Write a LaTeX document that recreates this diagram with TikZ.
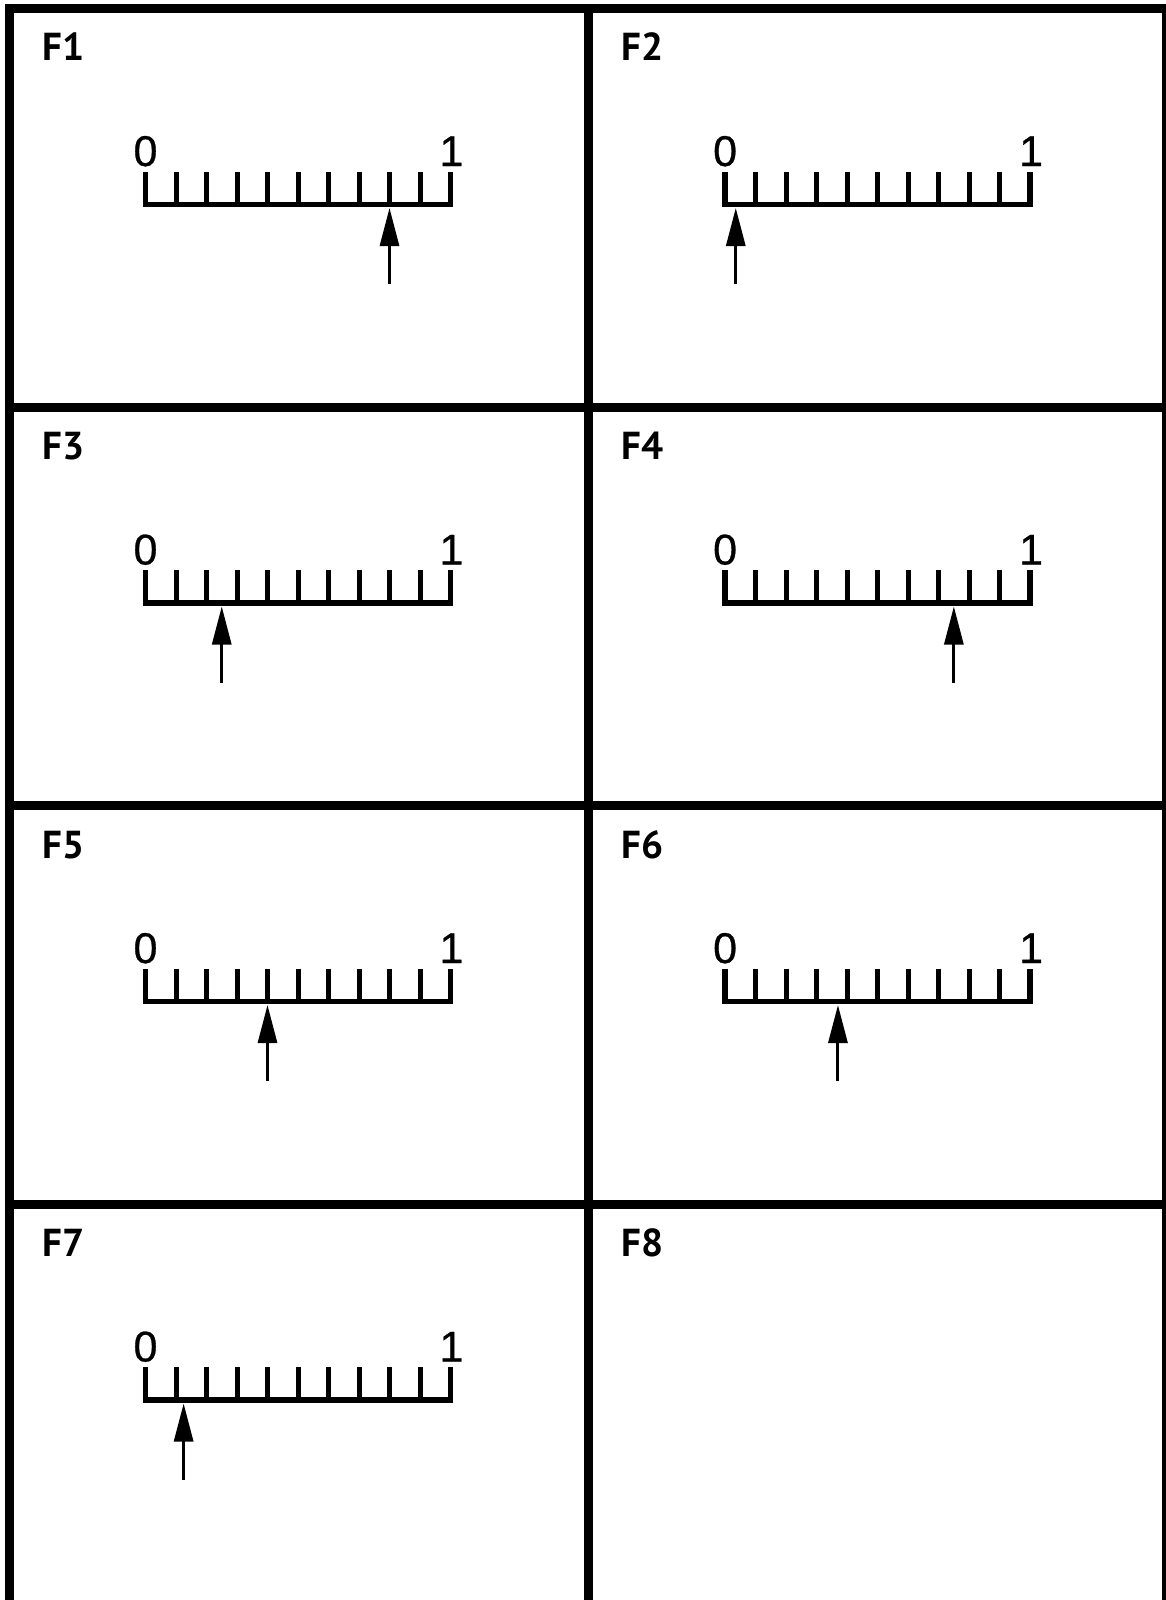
\documentclass[tikz,border=0pt]{standalone}
\usepackage{fontspec}
\usetikzlibrary{arrows.meta}

\newfontfamily\panelfont{PT Sans}
\newfontfamily\dialfont[FakeBold=0.6]{Liberation Sans}

\tikzset{
  frame/.style={line width=9pt, line join=miter},
  ruler/.style={line width=5.5pt, line join=miter},
  tickmark/.style={line width=5pt},
  pointer/.style={line width=3pt, -{Triangle[length=38pt,width=19pt]}},
  panellabel/.style={anchor=base west, inner sep=0pt,
    font=\panelfont\bfseries\fontsize{39}{43}\selectfont},
  dignum/.style={anchor=base, inner sep=0pt,
    font=\dialfont\fontsize{43}{47}\selectfont},
}

\begin{document}
\begin{tikzpicture}[x=1pt,y=-1pt]
\useasboundingbox (0,0) rectangle (1166,1600);
\fill[white] (0,0) rectangle (1166,1600);

% grid of eight panels
\draw[frame] (9,8.5) rectangle (1166,1610);
\draw[frame] (588.6,8.5) -- (588.6,1610);
\foreach \y in {407,805.5,1204}
  \draw[frame] (9,\y) -- (1166,\y);

% panels with a scale: corner x / corner y / label / pointer position
\foreach \cx/\cy/\lab/\val in {9/8.5/F1/8, 588.6/8.5/F2/0.35,
    9/407/F3/2.5, 588.6/407/F4/7.5,
    9/805.5/F5/4, 588.6/805.5/F6/3.7,
    9/1204/F7/1.25}{
  \begin{scope}[shift={(\cx,\cy)}]
    \node[panellabel] (lab\lab) at (33,52.5) {\lab};
    \coordinate (z\lab) at (136.5,196);
    \coordinate (o\lab) at (441.5,196);
    \draw[ruler] (136.5,163.2) -- (z\lab) -- (o\lab) -- (441.5,163.2);
    \foreach \k in {1,...,9}
      \draw[tickmark] (136.5+30.5*\k,163.2) -- (136.5+30.5*\k,196);
    \node[dignum] (zero\lab) at (136.5,157.5) {0};
    \node[dignum] (one\lab) at (442.5,157.5) {1};
    \coordinate (tip\lab) at (136.5+30.5*\val,199.5);
    \coordinate (tail\lab) at (136.5+30.5*\val,275.5);
    \draw[pointer] (tail\lab) -- (tip\lab);
  \end{scope}
}

% last panel is empty
\node[panellabel] (labF8) at (621.6,1256.5) {F8};
\end{tikzpicture}
\end{document}
